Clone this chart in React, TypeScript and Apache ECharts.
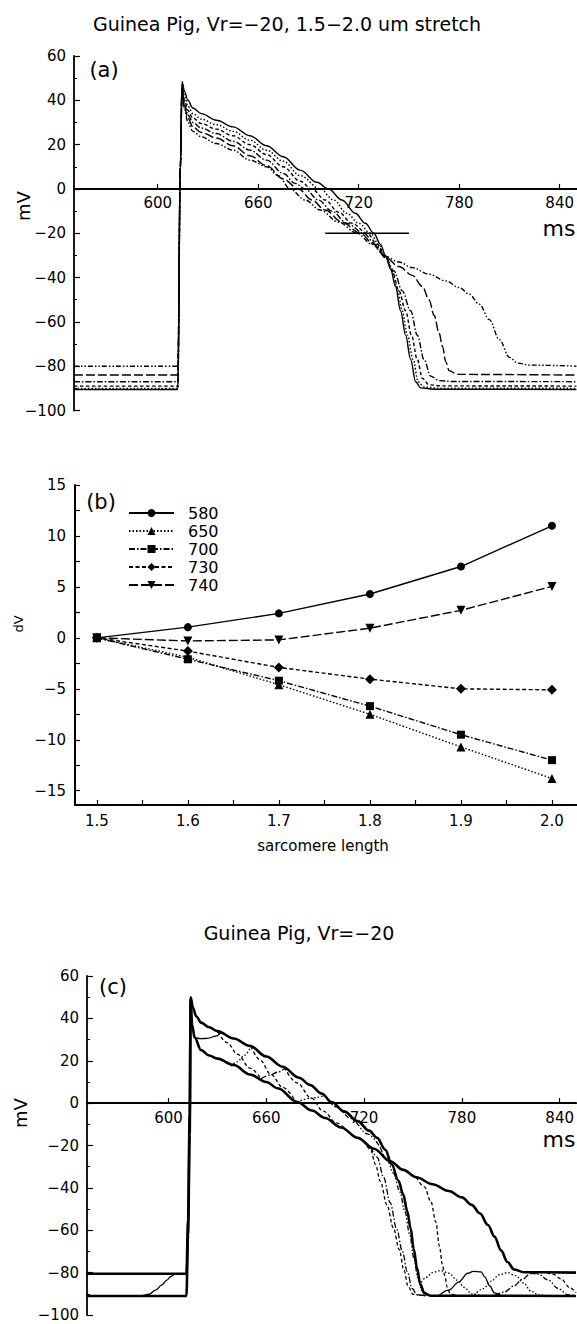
import React, { useEffect, useRef } from "react";
import * as echarts from "echarts";

const FONT = "DejaVu Sans";

// ---------- Panel (a): action potentials for sarcomere lengths 1.5 ... 2.0 um ----------
const apA15: number[][] = [[550,-90.5],[612,-90.5],[613.5,10],[614.5,48.5],[616,44],[618,40],[621,36.5],[626,34],[635,31],[645,28],[655,24],[665,19.5],[675,14.5],[685,8.5],[695,3],[702,0],[710,-5],[718,-11],[724,-15.5],[729,-20],[733,-25],[736,-30],[739,-36],[742,-44],[745,-55],[748,-66],[751,-77],[754,-87],[757,-89.8],[765,-90.4],[850,-90.5]];
const apA16: number[][] = [[550,-90],[612,-90],[613.5,10],[614.5,47],[616,42],[618,37.5],[621,34],[626,31.5],[635,29],[645,26],[655,22],[665,17.5],[675,12.5],[685,6],[697,0],[705,-5],[713,-11],[720,-15.5],[727,-20],[732,-25],[736,-30.5],[740,-37],[743,-45],[746,-55],[749,-66],[752.5,-77],[755.5,-87],[759,-89.4],[767,-89.9],[850,-90]];
const apA17: number[][] = [[550,-89],[612,-89],[613.5,10],[614.5,46],[616,40],[618,35.5],[621,32],[626,29.5],[635,27],[645,24],[655,20],[665,15.5],[675,10],[685,3.5],[692,0],[700,-5],[708,-10.5],[716,-15.5],[725,-20],[731,-25],[736,-30.5],[740,-37],[744,-46],[748,-55],[751.5,-66],[755,-77],[758,-85.5],[762,-88.4],[770,-88.9],[850,-89]];
const apA18: number[][] = [[550,-87],[612,-87],[613.5,10],[614.5,45.5],[616,38],[618,33.5],[621,30],[626,27.5],[635,25],[645,21.5],[655,17.5],[665,13],[675,7],[682,2.5],[688,0],[696,-5],[704,-10],[713,-15.5],[723,-20],[730,-25],[736,-31],[741,-37],[746,-46],[751,-55],[755,-66],[759,-77],[763,-84.5],[768,-86.5],[775,-86.9],[850,-87]];
const apA19: number[][] = [[550,-84],[612,-84],[613.5,10],[614.5,45],[616,37],[618,32],[621,28],[626,25.5],[635,23],[645,19.5],[655,15],[665,10.5],[675,4.5],[684,0],[692,-5],[700,-9.5],[710,-15],[721,-20],[729,-25],[736,-31],[744,-35],[752,-39],[758,-44],[762,-50],[765,-57],[768,-65],[770,-71],[772,-78],[774,-82],[779,-83.7],[850,-84]];
const apA20: number[][] = [[550,-80],[612,-80],[613.5,10],[614.5,44.5],[616,36],[618,30],[621,26],[626,23.5],[635,20.5],[645,17.5],[655,13],[665,10],[672,6],[679,0],[688,-5],[697,-9.5],[708,-15],[719,-20],[728,-25],[736,-30.5],[744,-33],[752,-35.5],[762,-38.5],[772,-41.5],[780,-44.5],[786,-47.5],[792,-52],[798,-59],[804,-68],[810,-76],[815,-78.6],[822,-79.5],[850,-80]];
const markerBarA: number[][] = [[700,-20],[750,-20]];

// ---------- Panel (b): dV vs sarcomere length at several times ----------
const sarcomereLengths = [1.5, 1.6, 1.7, 1.8, 1.9, 2.0];
const timeLabels = ["580", "650", "700", "730", "740"];
const dV580 = [0, 1.05, 2.4, 4.3, 7.0, 11.0];
const dV650 = [0, -1.9, -4.6, -7.5, -10.7, -13.8];
const dV700 = [0, -2.1, -4.2, -6.7, -9.5, -12.0];
const dV730 = [0, -1.3, -2.9, -4.05, -5.0, -5.1];
const dV740 = [0, -0.3, -0.2, 0.95, 2.7, 5.05];

// ---------- Panel (c): stretch applied / released at various times ----------
const apCUnstretched: number[][] = [[550,-91],[611,-91],[612,-62],[613,-15],[613.6,50],[615,45],[617,41],[620,38],[625,35.8],[630,34],[640,30.5],[650,27],[660,22],[670,17.2],[680,12],[687,8.5],[694,4.5],[700,0.5],[708,-4],[716,-8.5],[723,-13],[728,-16.4],[733,-22],[737,-29],[741,-36.5],[744,-43],[746.5,-51],[748.5,-59],[750.5,-69],[752.5,-78],[754.5,-85.5],[757,-89.8],[761,-90.9],[850,-91]];
const apCStretched: number[][] = [[550,-80.5],[611,-80.5],[612,-55],[613,-5],[613.6,49],[614.5,37],[616,31],[620,25],[625,22.5],[630,21],[640,18],[650,13.5],[660,10],[667,7],[679,0.5],[688,-3.5],[696,-7],[706,-11.5],[716,-16.4],[726,-21.5],[736,-27.4],[744,-31.5],[752,-35],[762,-38.3],[772,-41.5],[780,-44.5],[786,-48],[791,-52],[796,-57.5],[800,-63],[804,-69.5],[808,-75],[812,-78.5],[818,-79.8],[850,-80]];
const apCRestRise: number[][] = [[550,-91],[583,-91],[588,-90.2],[592,-88.3],[596,-85.8],[599,-83.5],[601.5,-81.8],[604,-80.7],[610,-80.5]];
const apCL1: number[][] = [[616.9,30.8],[620,30.4],[624,30.6],[629,31.6],[632.2,33.2]];
const apCL2: number[][] = [[630.2,33.6],[636,28.5],[642.4,23],[650,16.5],[656.7,11.5]];
const apCL3: number[][] = [[638.3,17.5],[642,19.5],[646.5,22.5],[650.6,26.8]];
const apCL4: number[][] = [[650.6,26.8],[656,20.5],[662.9,13.5],[670,7.5],[677.2,1.8]];
const apCL5: number[][] = [[656.7,11.5],[662,13.2],[667,14.6],[672,16.8]];
const apCL6: number[][] = [[671,16.8],[679,9.5],[687.4,2.5],[695,-3.8],[703,-9.3],[710,-13.4]];
const apCL7: number[][] = [[679,0.5],[687,2.3],[696,3.5]];
const apCL8: number[][] = [[696,3.5],[703,-1.8],[712,-7.3],[722,-14.5],[730,-21]];
const apCE1: number[][] = [[720,-17.8],[724,-22],[727,-29],[730,-37],[734,-48],[738,-59],[741.5,-69],[744.5,-79],[747,-86.5],[750,-90.2],[756,-91]];
const apCE2: number[][] = [[724,-20.5],[728,-25.5],[732,-35],[736,-47],[740,-59.5],[743.5,-70],[746.5,-79.5],[749.5,-87.5],[752.5,-90.5],[758,-91]];
const apCE3: number[][] = [[730,-21],[734,-26.5],[738,-33],[742,-42],[745,-51],[748,-62],[750.5,-73],[753,-82.5],[755.5,-88.5],[759,-90.8]];
const apCE4: number[][] = [[752,-35],[757,-39.5],[761,-46.5],[764,-56],[766.2,-67.5],[768,-76],[769.5,-81.5],[771,-87],[773,-90.2],[778,-91]];
const apCF1: number[][] = [[754,-86],[758,-82.3],[762,-80],[767,-79],[772,-80.3],[777,-83.5],[781.5,-87],[786,-90],[792,-91]];
const apCF2: number[][] = [[766,-90.8],[772,-88.3],[778,-84.5],[783.6,-80.3],[787,-79.4],[791.8,-79.6],[794,-82],[797,-86.2],[800,-89.6],[804,-90.9]];
const apCF3: number[][] = [[787.7,-90.6],[793,-87.6],[798,-84],[803,-81],[808,-80],[813,-81.4],[818,-85],[822.4,-88.8],[827,-90.5],[833,-91]];
const apCF4: number[][] = [[800,-90.8],[806,-89.2],[812,-86.3],[817,-83.2],[822,-80.6],[827,-80]];
const apCF5: number[][] = [[822,-80],[827,-80.8],[833,-83.5],[839,-87.5],[845,-90.4],[850,-91]];
const apCF6: number[][] = [[832,-80],[836,-80.8],[841,-83],[846,-87],[850,-89.5]];

// ---------- Tick values ----------
const msTicks = [600, 660, 720, 780, 840];
const slTicks = [1.5, 1.6, 1.7, 1.8, 1.9, 2.0];
const slTickMarks = [1.5, 1.55, 1.6, 1.65, 1.7, 1.75, 1.8, 1.85, 1.9, 1.95, 2.0];
const dvTicks = [-15, -10, -5, 0, 5, 10, 15];
const dvTickMarks = [-15, -12.5, -10, -7.5, -5, -2.5, 0, 2.5, 5, 7.5, 10, 12.5, 15];

const minus = (v: number | string) => String(v).replace("-", "\u2212");

const DOTTED = [1.5, 2];
const DASHED = [3.5, 2.5];
const DASHDOT = [6, 2, 1.5, 2];
const LONGDASH = [9, 3];
const DASHDOTDOT = [5, 2, 1.5, 2, 1.5, 2];

// grid geometry (panels a, b, c)
const GA = { left: 74, top: 56, width: 503, height: 354.5 };
const GB = { left: 75, top: 485, width: 502, height: 320 };
const GC = { left: 87, top: 976, width: 490, height: 339 };
// distance of the zero line above the grid bottom (mV axis -100..60)
const zeroOffset = (h: number) => -(h * 100) / 160;

function msAxis(gridIndex: number, h: number) {
  return {
    type: "value", gridIndex, min: 550, max: 850, position: "bottom", offset: zeroOffset(h),
    axisLine: { show: true, onZero: false, lineStyle: { color: "#000", width: 2.2 } },
    axisTick: { show: true, inside: true, length: 5, customValues: msTicks, lineStyle: { color: "#000", width: 1.2 } },
    axisLabel: { show: true, customValues: msTicks, color: "#000", fontFamily: FONT, fontSize: 15, margin: 7 },
    splitLine: { show: false },
  };
}
function mvAxis(gridIndex: number) {
  return {
    type: "value", gridIndex, min: -100, max: 60, interval: 20,
    axisLine: { show: true, onZero: false, lineStyle: { color: "#000", width: 1.8 } },
    axisTick: { show: true, inside: true, length: 6, lineStyle: { color: "#000", width: 1.2 } },
    minorTick: { show: true, splitNumber: 2, length: 3, lineStyle: { color: "#000", width: 1 } },
    axisLabel: { show: true, color: "#000", fontFamily: FONT, fontSize: 15, margin: 8, formatter: (v: number) => minus(v) },
    splitLine: { show: false },
  };
}

function line(name: string, data: number[][], idx: number, width: number, type: any, smooth = 0.35) {
  return {
    name, type: "line", xAxisIndex: idx, yAxisIndex: idx, data, showSymbol: false, symbol: "none",
    smooth, smoothMonotone: "x",
    lineStyle: { color: "#000", width, type }, z: 3, silent: true,
  };
}

function dvSeries(name: string, values: number[], type: any, symbol: string, size = 8) {
  return {
    name, type: "line", xAxisIndex: 1, yAxisIndex: 1,
    data: sarcomereLengths.map((x, i) => [x, values[i]]),
    symbol, symbolSize: size, showSymbol: true,
    lineStyle: { color: "#000", width: 1.4, type },
    itemStyle: { color: "#000", borderWidth: 0 },
  };
}

function txt(text: string, x: number, y: number, fontSize: number, rotation = 0) {
  return {
    type: "text", x, y, rotation,
    style: { text, fill: "#000", fontFamily: FONT, fontSize, align: "center", verticalAlign: "middle", textAlign: "center", textVerticalAlign: "middle" },
  };
}

export default function App() {
  const ref = useRef<HTMLDivElement>(null);
  useEffect(() => {
    document.body.style.margin = "0";
    const chart = echarts.init(ref.current!, null, { renderer: "svg" });
    const option: any = {
      animation: false,
      backgroundColor: "#fff",
      grid: [GA, GB, GC],
      xAxis: [
        msAxis(0, GA.height),
        {
          type: "value", gridIndex: 1, min: 1.476, max: 2.0275,
          axisLine: { show: true, onZero: false, lineStyle: { color: "#000", width: 2 } },
          axisTick: { show: true, inside: true, length: 5, customValues: slTickMarks, lineStyle: { color: "#000", width: 1.2 } },
          axisLabel: { show: true, customValues: slTicks, color: "#000", fontFamily: FONT, fontSize: 15, margin: 8, formatter: (v: number) => v.toFixed(1) },
          splitLine: { show: false },
        },
        msAxis(2, GC.height),
      ],
      yAxis: [
        mvAxis(0),
        {
          type: "value", gridIndex: 1, min: -16.4, max: 15,
          axisLine: { show: true, onZero: false, lineStyle: { color: "#000", width: 2 } },
          axisTick: { show: true, inside: true, length: 5, customValues: dvTickMarks, lineStyle: { color: "#000", width: 1.2 } },
          axisLabel: { show: true, customValues: dvTicks, color: "#000", fontFamily: FONT, fontSize: 15, margin: 9, formatter: (v: number) => minus(v) },
          splitLine: { show: false },
        },
        mvAxis(2),
      ],
      legend: {
        data: timeLabels, orient: "vertical", left: 123, top: 499,
        itemWidth: 45, itemHeight: 10, itemGap: 0,
        textStyle: { color: "#000", fontFamily: FONT, fontSize: 16, lineHeight: 18, padding: [0, 0, 0, 9] },
      },
      series: [
        line("1.5", apA15, 0, 1.4, "solid"),
        line("1.6", apA16, 0, 1.4, DOTTED),
        line("1.7", apA17, 0, 1.4, DASHED),
        line("1.8", apA18, 0, 1.4, DASHDOT),
        line("1.9", apA19, 0, 1.4, LONGDASH),
        line("2.0", apA20, 0, 1.4, DASHDOTDOT),
        line("bar", markerBarA, 0, 1.5, "solid", 0),

        dvSeries("580", dV580, "solid", "circle", 8),
        dvSeries("650", dV650, DOTTED, "triangle", 9),
        dvSeries("700", dV700, DASHDOT, "rect", 8),
        dvSeries("730", dV730, [4, 2.5], "diamond", 10),
        dvSeries("740", dV740, LONGDASH, "path://M0,0 L10,0 L5,9 Z", 9),

        line("unstretched", apCUnstretched, 2, 2.6, "solid"),
        line("stretched", apCStretched, 2, 2.6, "solid"),
        line("restRise", apCRestRise, 2, 1.3, "solid"),
        line("L1", apCL1, 2, 1.3, "solid"),
        line("L2", apCL2, 2, 1.3, DASHED),
        line("L3", apCL3, 2, 1.3, DOTTED),
        line("L4", apCL4, 2, 1.3, DASHED),
        line("L5", apCL5, 2, 1.3, DASHDOT),
        line("L6", apCL6, 2, 1.3, DASHED),
        line("L7", apCL7, 2, 1.3, DOTTED),
        line("L8", apCL8, 2, 1.3, DASHDOTDOT),
        line("E1", apCE1, 2, 1.3, DASHED),
        line("E2", apCE2, 2, 1.3, DASHDOT),
        line("E3", apCE3, 2, 1.3, DASHDOTDOT),
        line("E4", apCE4, 2, 1.3, DASHED),
        line("F1", apCF1, 2, 1.3, DOTTED),
        line("F2", apCF2, 2, 1.3, "solid"),
        line("F3", apCF3, 2, 1.3, DOTTED),
        line("F4", apCF4, 2, 1.3, DASHDOT),
        line("F5", apCF5, 2, 1.3, DASHDOTDOT),
        line("F6", apCF6, 2, 1.3, DASHED),
      ],
      graphic: [
        txt("Guinea Pig, Vr=\u221220, 1.5\u22122.0 um stretch", 287, 24, 19),
        txt("(a)", 104, 70, 21),
        txt("ms", 559, 228, 22),
        txt("mV", 23, 206, 18, Math.PI / 2),
        txt("(b)", 101, 502, 21),
        txt("dV", 18, 624, 13, Math.PI / 2),
        txt("sarcomere length", 323, 846, 15),
        txt("Guinea Pig, Vr=\u221220", 299, 933, 19),
        txt("(c)", 113, 987, 21),
        txt("ms", 559, 1139, 22),
        txt("mV", 20, 1113, 18, Math.PI / 2),
      ],
    };
    chart.setOption(option);
    return () => chart.dispose();
  }, []);
  return (
    <div
      ref={ref}
      style={{ position: "absolute", left: 0, top: 0, width: 577, height: 1324, background: "#fff" }}
    />
  );
}
